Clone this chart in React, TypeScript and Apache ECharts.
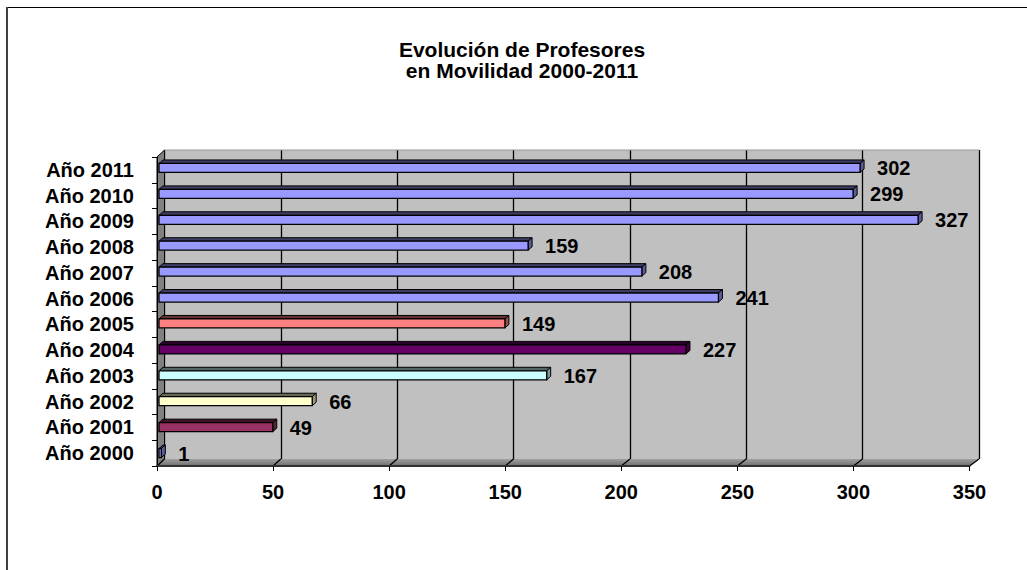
import React, { useEffect, useRef } from "react";
import * as echarts from "echarts";

const titleLines = ["Evolución de Profesores", "en Movilidad 2000-2011"];
const categories = [
  "Año 2000", "Año 2001", "Año 2002", "Año 2003", "Año 2004", "Año 2005",
  "Año 2006", "Año 2007", "Año 2008", "Año 2009", "Año 2010", "Año 2011",
];
const values = [1, 49, 66, 167, 227, 149, 241, 208, 159, 327, 299, 302];
const barColors = [
  "#9999FF", "#993366", "#FFFFCC", "#CCFFFF", "#660066", "#FF8080",
  "#9999FF", "#9999FF", "#9999FF", "#9999FF", "#9999FF", "#9999FF",
];
const xMin = 0;
const xMax = 350;
const xInterval = 50;

const FONT = "Arial, 'Liberation Sans', Helvetica, sans-serif";

// layout
const BACK = { left: 164.5, top: 150, width: 814.5, height: 309 };
const FRONT = { left: 157, top: 157, width: 812.5, height: 309 };
const BARS = { left: 159, top: 155, width: 812.5, height: 311 };

function shade(hex: string, f: number): string {
  const n = parseInt(hex.slice(1), 16);
  const r = Math.round(((n >> 16) & 255) * f);
  const g = Math.round(((n >> 8) & 255) * f);
  const b = Math.round((n & 255) * f);
  return `rgb(${r},${g},${b})`;
}

export default function App() {
  const ref = useRef<HTMLDivElement>(null);
  useEffect(() => {
    if (!ref.current) return;
    const chart = echarts.init(ref.current, null, { renderer: "svg" });
    const axisFont = { fontSize: 20, fontWeight: "bold" as const, fontFamily: FONT, color: "#000" };
    const option: any = {
      animation: false,
      backgroundColor: "#fff",
      title: {
        text: titleLines.join("\n"),
        left: 522,
        top: 38.5,
        padding: 0,
        textAlign: "center",
        textStyle: { fontSize: 21, fontWeight: "bold", fontFamily: FONT, color: "#000", lineHeight: 21 },
      },
      grid: [
        { ...BACK, show: true, backgroundColor: "#C0C0C0", borderWidth: 0, z: 0 },
        { ...FRONT, show: false },
        { ...BARS, show: false },
      ],
      xAxis: [
        {
          gridIndex: 0, type: "value", min: xMin, max: xMax, interval: xInterval,
          axisLabel: { show: false }, axisTick: { show: false }, axisLine: { show: false },
          splitLine: { show: true, lineStyle: { color: "#000", width: 1.3 } }, z: 1,
        },
        {
          gridIndex: 1, type: "value", min: xMin, max: xMax, interval: xInterval, position: "bottom",
          axisLine: { show: true, lineStyle: { color: "#333", width: 2 } },
          axisTick: { show: true, length: 5, lineStyle: { color: "#000", width: 1 } },
          axisLabel: { ...axisFont, margin: 16 },
          splitLine: { show: false }, z: 3,
        },
        { gridIndex: 2, type: "value", min: xMin, max: xMax, show: false },
      ],
      yAxis: [
        { gridIndex: 0, type: "category", data: categories, show: false },
        {
          gridIndex: 1, type: "category", data: categories,
          axisLine: { show: true, lineStyle: { color: "#000", width: 1 } },
          axisTick: { show: true, length: 5, lineStyle: { color: "#000", width: 1 } },
          axisLabel: { ...axisFont, margin: 23, interval: 0 },
          splitLine: { show: false }, z: 3,
        },
        { gridIndex: 2, type: "category", data: categories, show: false },
      ],
      series: [
        {
          type: "custom",
          xAxisIndex: 2,
          yAxisIndex: 2,
          z: 5,
          data: values.map((v, i) => [v, i]),
          encode: { x: 0, y: 1 },
          renderItem: (params: any, api: any) => {
            const v = api.value(0);
            const idx = api.value(1);
            const s = api.coord([0, idx]);
            const e = api.coord([v, idx]);
            const h = 9;
            const dx = 4;
            const dy = 3.5;
            const cy = s[1];
            const x0 = s[0];
            const x1 = e[0];
            const yt = cy - h / 2;
            const yb = cy + h / 2;
            const color = barColors[params.dataIndex];
            return {
              type: "group",
              children: [
                {
                  type: "polygon",
                  shape: { points: [[x0, yt], [x1, yt], [x1 + dx, yt - dy], [x0 + dx, yt - dy]] },
                  style: { fill: shade(color, 0.4), stroke: "#000", lineWidth: 1 },
                },
                {
                  type: "polygon",
                  shape: { points: [[x1, yt], [x1 + dx, yt - dy], [x1 + dx, yb - dy], [x1, yb]] },
                  style: { fill: shade(color, 0.6), stroke: "#000", lineWidth: 1 },
                },
                {
                  type: "rect",
                  shape: { x: x0, y: yt, width: Math.max(x1 - x0, 0.5), height: h },
                  style: { fill: color, stroke: "#000", lineWidth: 1.3 },
                },
                {
                  type: "text",
                  x: x1 + 17,
                  y: cy + 0.5,
                  style: {
                    text: String(v), fill: "#000", fontSize: 20, fontWeight: "bold",
                    fontFamily: FONT, align: "left", verticalAlign: "middle",
                  },
                },
              ],
            };
          },
        },
      ],
    };
    chart.setOption(option);

    // 3D decorations derived from the axes
    const ticks: number[] = [];
    for (let t = xMin; t <= xMax; t += xInterval) ticks.push(t);
    const backX = (t: number) => chart.convertToPixel({ xAxisIndex: 0 }, t) as number;
    const frontX = (t: number) => chart.convertToPixel({ xAxisIndex: 1 }, t) as number;
    const backBottom = BACK.top + BACK.height;
    const frontBottom = FRONT.top + FRONT.height;
    const elements: any[] = [
      // outer frame
      { type: "line", shape: { x1: 7, y1: 7.5, x2: 1027, y2: 7.5 }, style: { stroke: "#000", lineWidth: 1.2 }, z: 1 },
      { type: "line", shape: { x1: 7, y1: 7, x2: 7, y2: 570 }, style: { stroke: "#404040", lineWidth: 2 }, z: 1 },
      // left wall
      {
        type: "polygon",
        shape: { points: [[FRONT.left, FRONT.top], [BACK.left, BACK.top], [BACK.left, backBottom], [FRONT.left, frontBottom]] },
        style: { fill: "#808080", stroke: "#000", lineWidth: 1 },
        z: 2,
      },
      // floor
      {
        type: "polygon",
        shape: { points: [[FRONT.left, frontBottom], [BACK.left, backBottom], [backX(xMax), backBottom], [frontX(xMax), frontBottom]] },
        style: {
          fill: new echarts.graphic.LinearGradient(0, 0, 0, 1, [
            { offset: 0, color: "#a0a0a0" },
            { offset: 0.4, color: "#8c8c8c" },
            { offset: 1, color: "#6e6e6e" },
          ]),
        },
        z: 2,
      },
      // top edge of back wall
      { type: "line", shape: { x1: BACK.left, y1: BACK.top, x2: backX(xMax), y2: BACK.top }, style: { stroke: "#9a9a9a", lineWidth: 1 }, z: 2 },
    ];
    ticks.forEach((t) => {
      elements.push({
        type: "line",
        shape: { x1: backX(t), y1: backBottom, x2: frontX(t), y2: frontBottom },
        style: { stroke: "#000", lineWidth: 1.3 },
        z: 2,
      });
    });
    chart.setOption({ graphic: { elements } });

    return () => chart.dispose();
  }, []);
  return <div ref={ref} style={{ position: "absolute", left: 0, top: 0, width: 1027, height: 570 }} />;
}
